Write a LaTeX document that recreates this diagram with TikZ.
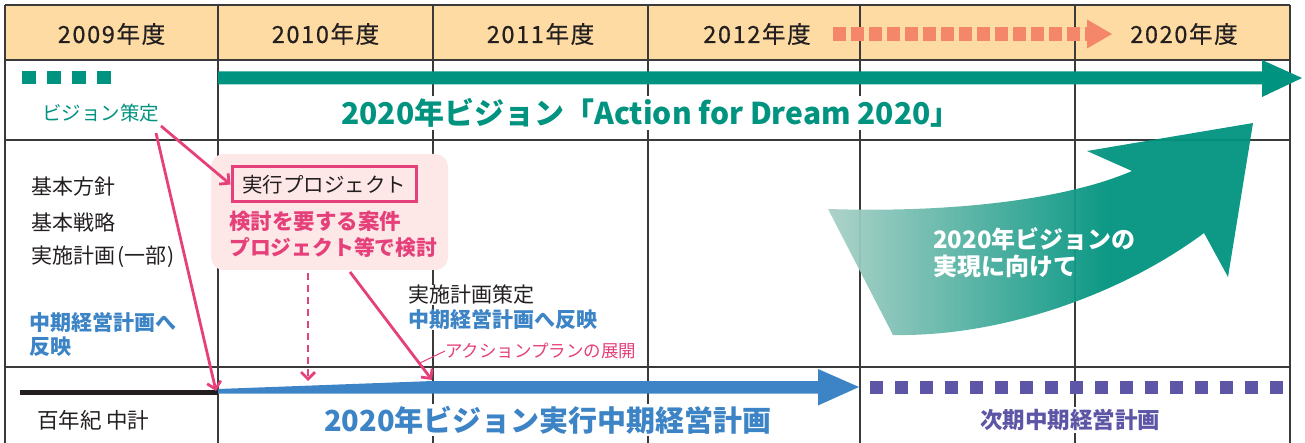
\documentclass[tikz,border=0pt]{standalone}
\usepackage{fontspec}
\setmainfont{Noto Sans CJK JP}
\usetikzlibrary{arrows.meta}
\definecolor{hdrfill}{HTML}{FDDBA2}
\definecolor{gridc}{HTML}{3A3A3A}
\definecolor{tealc}{HTML}{00937F}
\definecolor{ltealc}{HTML}{A9D0C6}
\definecolor{salmonc}{HTML}{F4866A}
\definecolor{pinkc}{HTML}{E6407B}
\definecolor{pinkfill}{HTML}{FDE7E7}
\definecolor{bluec}{HTML}{3C84C5}
\definecolor{purplec}{HTML}{5D56A6}
\definecolor{textc}{HTML}{231F20}
\pgfdeclarehorizontalshading{arrowshade}{100bp}{color(0bp)=(ltealc); color(25bp)=(ltealc); color(58bp)=(tealc); color(100bp)=(tealc)}
\newcommand{\fs}[1]{\fontsize{#1}{#1}\selectfont}
\begin{document}
\begin{tikzpicture}[x=1pt,y=-1pt,
  gridline/.style={draw=gridc, line width=1.2pt},
  hdr/.style={font=\fs{23.5}\addfontfeatures{LetterSpace=7,FakeBold=0.6}, text=textc, inner sep=0pt},
  lbl/.style={font=\fs{21}, text=textc, anchor=west, inner sep=0pt},
  pinkarrow/.style={draw=pinkc, line width=2.8pt, -{Straight Barb[length=7pt,width=14pt]}},
]
\useasboundingbox (0,0) rectangle (1305,443);
% table
\fill[hdrfill] (5,5) rectangle (1290,60);
\foreach \yy in {5,60,140,367} \draw[gridline] (5,\yy) -- (1290,\yy);
\foreach \xx in {5,218,433,648,860,1075,1290} \draw[gridline] (\xx,5) -- (\xx,443);
% header
\node[hdr] (h09) at (111.5,34) {2009年度};
\node[hdr] (h10) at (325.5,34) {2010年度};
\node[hdr] (h11) at (540.5,34) {2011年度};
\node[hdr] (h12) at (757,34) {2012年度};
\node[hdr] (h20) at (1184,34) {2020年度};
\coordinate (sa) at (833,34);
\coordinate (sb) at (1087,34);
\draw[salmonc, line width=14pt, dash pattern=on 12.5pt off 5.5pt] (sa) -- (sb);
\fill[salmonc] (1087,19.5) -- (1112,34) -- (1087,48.5) -- cycle;
% vision row
\foreach \i in {0,...,3} \fill[tealc] (22+25*\i,71) rectangle ++(14,13);
\node[lbl, text=tealc, font=\fs{19.5}] (vis) at (42,113) {ビジョン策定};
\fill[tealc] (218,71.5) -- (1262,71.5) -- (1262,60) -- (1302,78) -- (1262,97) -- (1262,84.5) -- (218,84.5) -- cycle;
\node[font=\fs{30}\bfseries, text=tealc, fill=white, inner sep=2pt] (vtitle) at (651,113) {2020年ビジョン「Action for Dream 2020」};
% middle row left
\node[lbl] (kh) at (31,187) {基本方針};
\node[lbl] (ks) at (31,222) {基本戦略};
\node[lbl] (jk) at (31,257) {実施計画\kern2pt(一部\kern1pt)};
\node[lbl, text=bluec, font=\fs{21}\bfseries] (mr) at (29,322) {中期経営計画へ};
\node[lbl, text=bluec, font=\fs{21}\bfseries] (mr2) at (29,347) {反映};
% project box
\node[fill=pinkfill, rounded corners=13pt, minimum width=237pt, minimum height=116pt, inner sep=0pt] (pbox) at (329.5,212) {};
\node[draw=pinkc, line width=3pt, minimum width=184pt, minimum height=35pt, inner sep=0pt, font=\fs{20.5}, text=textc] (proj) at (324,184.5) {実行プロジェクト};
\node[lbl, text=pinkc, font=\fs{21.5}\bfseries] (ken1) at (229,221) {検討を要する案件};
\node[lbl, text=pinkc, font=\fs{20.8}\bfseries] (ken2) at (229,248) {プロジェクト等で検討};
% middle texts
\node[lbl, fill=white] (jks) at (408,295) {実施計画策定};
\node[lbl, fill=white, text=bluec, font=\fs{21}\bfseries] (mr3) at (408,320) {中期経営計画へ反映};
\node[lbl, fill=white, text=pinkc, font=\fs{17.5}] (ap) at (445,351) {アクションプランの展開};
% big curved arrow
\shade[shading=arrowshade, opacity=0.95]
  (828,209) .. controls (950,213) and (1065,200) .. (1132,171)
  -- (1087,151) -- (1253,123) -- (1228,277) -- (1204,233)
  .. controls (1125,292) and (1005,337) .. (893,335) -- cycle;
\node[lbl, text=white, font=\fs{24}\bfseries] (bt1) at (933,239) {2020年ビジョンの};
\node[lbl, text=white, font=\fs{24}\bfseries] (bt2) at (933,266) {実現に向けて};
% bottom row
\draw[textc, line width=4.7pt] (20,392.5) -- (218,392.5);
\fill[bluec] (218,389) -- (433,381) -- (818,381) -- (818,369) -- (859,387) -- (818,405.5) -- (818,393.5) -- (218,393.5) -- cycle;
\coordinate (bluestart) at (216,391);
\foreach \i in {0,...,16} \fill[purplec] (870+25*\i,381) rectangle ++(13,13);
\node[lbl, font=\fs{21.5}] (hyk) at (37,420) {百年紀 中計};
\node[font=\fs{29}\bfseries, text=bluec, fill=white, inner sep=2pt] (btitle) at (548,420) {2020年ビジョン実行中期経営計画};
\node[font=\fs{22.5}\bfseries, text=purplec, fill=white, inner sep=2pt] (jiki) at (1070,420) {次期中期経営計画};
% pink connectors
\coordinate (v1) at (161,126);
\coordinate (v2) at (156,133);
\coordinate (d1) at (308,273);
\coordinate (d2) at (308,381);
\coordinate (s1) at (350,272);
\coordinate (s2) at (432,380);
\draw[pinkarrow] (v1) -- (proj.west);
\draw[pinkarrow] (v2) -- (bluestart);
\draw[pinkarrow, dash pattern=on 7pt off 5pt] (d1) -- (d2);
\draw[pinkarrow] (s1) -- (s2);
\draw[pinkc, line width=1pt] (ap.west) -- (420,363);
\end{tikzpicture}
\end{document}
